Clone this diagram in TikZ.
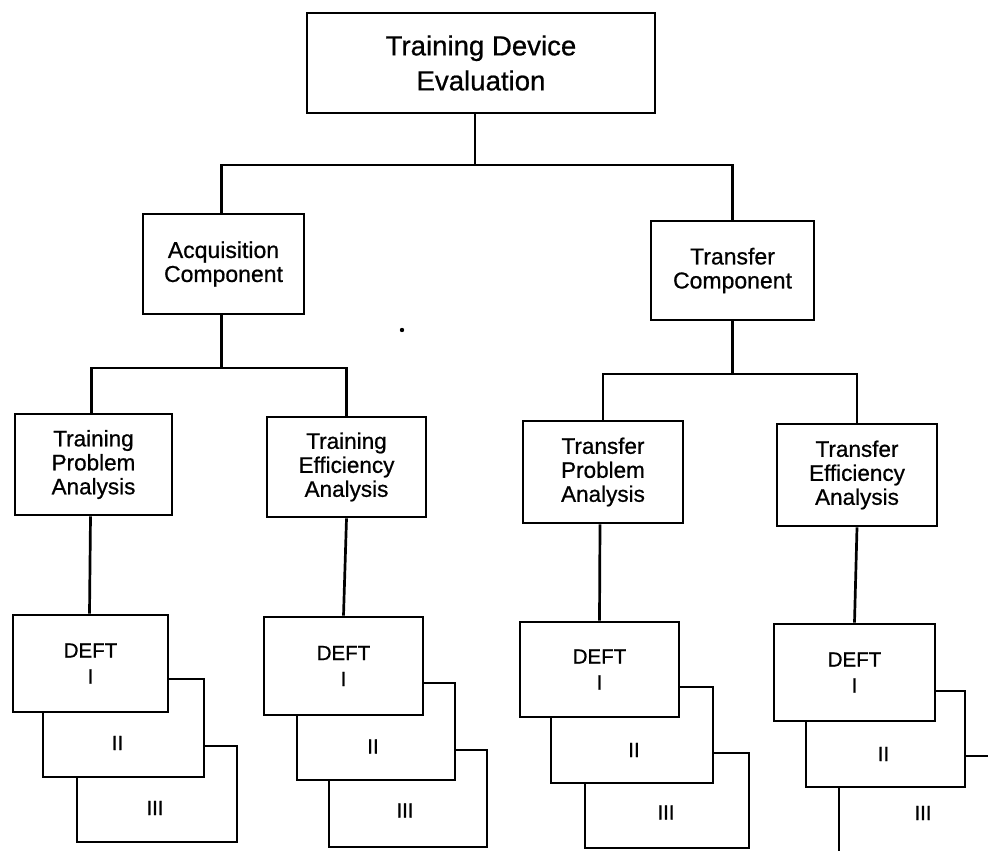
\documentclass[tikz,border=0pt]{standalone}
\usepackage{fontspec}
\setmainfont[FakeBold=0.7]{Liberation Sans}
\begin{document}
\begin{tikzpicture}[x=1pt,y=-1pt,
  box/.style={draw, fill=white, rectangle, inner sep=0pt, align=center, line width=2.7pt},
  topbox/.style={box, font=\fontsize{27.6}{35}\selectfont},
  midbox/.style={box, font=\fontsize{23}{24}\selectfont},
  lowbox/.style={box, font=\fontsize{22.5}{24}\selectfont},
  deftbox/.style={box, font=\fontsize{20.5}{26}\selectfont},
  lbl/.style={inner sep=0pt, font=\fontsize{20.5}{26}\selectfont},
  wire/.style={draw, line width=2.7pt}]
\useasboundingbox (0,0) rectangle (988,851);
\fill[white] (0,0) rectangle (988,851);
\begin{scope}
\clip (0,0) rectangle (988,851);

% level 1
\node[topbox, minimum width=348pt, minimum height=100pt] (top) at (481,63) {Training Device\\Evaluation};
% level 2
\node[midbox, minimum width=161pt, minimum height=100pt] (acq) at (223.5,264) {Acquisition\\Component};
\node[midbox, minimum width=163pt, minimum height=99pt] (trans) at (732.5,270.5) {Transfer\\Component};
% level 3
\node[lowbox, minimum width=157pt, minimum height=101pt] (tpa) at (93.5,464.5) {Training\\Problem\\Analysis};
\node[lowbox, minimum width=159pt, minimum height=100pt] (tea) at (346.5,467) {Training\\Efficiency\\Analysis};
\node[lowbox, minimum width=160pt, minimum height=102pt] (fpa) at (603,472) {Transfer\\Problem\\Analysis};
\node[lowbox, minimum width=160pt, minimum height=102pt] (fea) at (857,475) {Transfer\\Efficiency\\Analysis};

% bus coordinates
\coordinate (bus1) at (0,165);
\coordinate (bus2) at (0,368);
\coordinate (bus3) at (0,374);

\draw[wire] ([xshift=-6pt]top.south) -- ([xshift=-6pt]top.south |- bus1);
\draw[wire] ([xshift=-2pt]acq.north) -- ([xshift=-2pt]acq.north |- bus1) -- (trans.north |- bus1) -- (trans.north);
\draw[wire] ([xshift=-2pt]acq.south) -- ([xshift=-2pt]acq.south |- bus2);
\draw[wire] ([xshift=-2pt]tpa.north) -- ([xshift=-2pt]tpa.north |- bus2) -- (tea.north |- bus2) -- (tea.north);
\draw[wire] (trans.south) -- (trans.south |- bus3);
\draw[wire] (fpa.north) -- (fpa.north |- bus3) -- (fea.north |- bus3) -- (fea.north);

% stack 1
\node[deftbox, minimum width=160pt, minimum height=96pt] (s1c) at (157,794) {};
\node[deftbox, minimum width=161pt, minimum height=98pt] (s1b) at (123.5,728) {};
\node[deftbox, minimum width=155pt, minimum height=97pt] (s1a) at (90.5,663.5) {DEFT\\I};
\node[lbl] at ([xshift=-6pt,yshift=-15pt]s1b.center) {II};
\node[lbl] at ([xshift=-2pt,yshift=-14pt]s1c.center) {III};
\draw[wire] ([xshift=-3pt]tpa.south) -- ([xshift=-1pt]s1a.north);

% stack 2
\node[deftbox, minimum width=158pt, minimum height=97pt] (s2c) at (408,798.5) {};
\node[deftbox, minimum width=158pt, minimum height=97pt] (s2b) at (376,731.5) {};
\node[deftbox, minimum width=159pt, minimum height=98pt] (s2a) at (343.5,666) {DEFT\\I};
\node[lbl] at ([xshift=-3pt,yshift=-15pt]s2b.center) {II};
\node[lbl] at ([xshift=-3pt,yshift=-12pt]s2c.center) {III};
\draw[wire] (tea.south) -- (s2a.north);

% stack 3
\node[deftbox, minimum width=164pt, minimum height=95pt] (s3c) at (667,800.5) {};
\node[deftbox, minimum width=162pt, minimum height=96pt] (s3b) at (632,735) {};
\node[deftbox, minimum width=159pt, minimum height=95pt] (s3a) at (599.5,669.5) {DEFT\\I};
\node[lbl] at ([xshift=2pt,yshift=-15pt]s3b.center) {II};
\node[lbl] at ([xshift=-1pt,yshift=-12pt]s3c.center) {III};
\draw[wire] ([xshift=-3pt]fpa.south) -- (s3a.north);

% stack 4
\node[deftbox, minimum width=160pt, minimum height=96pt] (s4c) at (919,804) {};
\node[deftbox, minimum width=159pt, minimum height=96pt] (s4b) at (885.5,739) {};
\node[deftbox, minimum width=161pt, minimum height=97pt] (s4a) at (854.5,672.5) {DEFT\\I};
\node[lbl] at ([xshift=-2pt,yshift=-15pt]s4b.center) {II};
\node[lbl] at ([xshift=4pt,yshift=-9pt]s4c.center) {III};
\draw[wire] (fea.south) -- (s4a.north);

% stray speck in the scan
\fill (402,330) circle (2.2pt);
\end{scope}
\end{tikzpicture}
\end{document}
